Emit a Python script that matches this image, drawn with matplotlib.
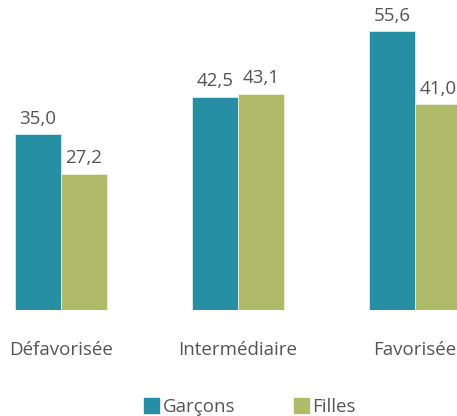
import numpy as np
import matplotlib.pyplot as plt
from matplotlib.patches import Patch

plt.rcParams['font.family'] = ['Open Sans', 'DejaVu Sans']

# Data
categories = ["Défavorisée", "Intermédiaire", "Favorisée"]
garcons = [35.0, 42.5, 55.6]
filles = [27.2, 43.1, 41.0]
series_names = ["Garçons", "Filles"]

teal = "#268fa3"
green = "#afbb69"
txt = "#555555"

W, H = 457, 416
fig = plt.figure(figsize=(W / 100, H / 100), dpi=100)
ax = fig.add_axes([0, 106 / H, 1, 310 / H])

x = np.arange(len(categories))
bw = 0.26
b1 = ax.bar(x - bw / 2, garcons, bw, color=teal, edgecolor="#d8eef2", linewidth=0.6)
b2 = ax.bar(x + bw / 2, filles, bw, color=green, edgecolor="#eef2dc", linewidth=0.6)

for bars, vals in ((b1, garcons), (b2, filles)):
    for rect, v in zip(bars, vals):
        ax.annotate(f"{v:.1f}".replace(".", ","),
                    (rect.get_x() + rect.get_width() / 2, v),
                    xytext=(0, 4.5), textcoords="offset points",
                    ha="center", va="bottom", fontsize=13.5, color=txt)

ax.set_xlim(-61 / 177, (W - 61) / 177)
ax.set_ylim(0, 310 / 5.018)
ax.axis("off")

for xi, c in zip(x, categories):
    ax.annotate(c, (xi, 0), xytext=(0, -40 * 0.72), textcoords="offset points",
                ha="center", va="center", fontsize=13.5, color=txt)

handles = [Patch(color=teal), Patch(color=green)]
fig.legend(handles, series_names, loc="center", bbox_to_anchor=(250 / W, 1 - 407 / H),
           ncol=2, frameon=False, fontsize=13.5, labelcolor=txt,
           handlelength=0.8, handleheight=0.8, handletextpad=0.2,
           columnspacing=3.1)

fig.savefig("out.png", dpi=100)
